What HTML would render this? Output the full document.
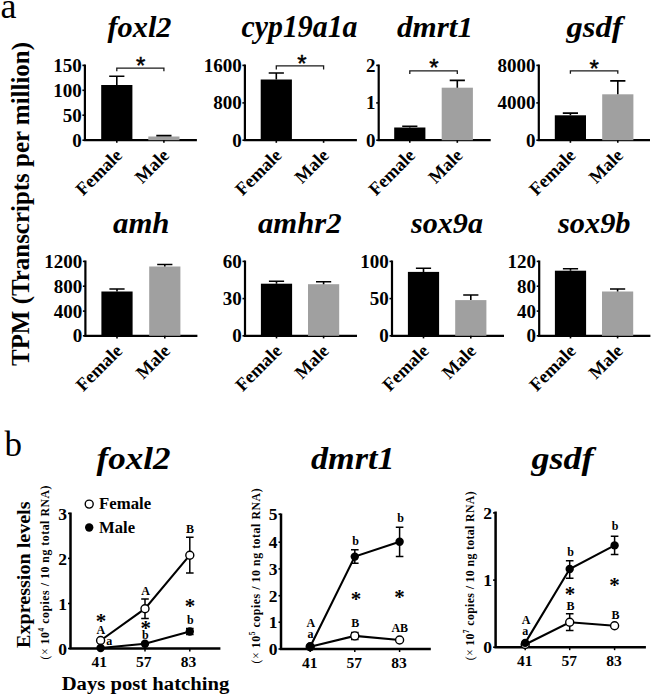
<!DOCTYPE html>
<html><head><meta charset="utf-8"><style>
*{margin:0;padding:0}
html,body{width:652px;height:697px;background:#fff;overflow:hidden}
svg{display:block}
text{font-family:"Liberation Serif",serif;font-weight:bold;fill:#000}
.tl{font-size:19px}
.xl{font-size:18.3px}
.tt{font-size:30px;font-style:italic}
.tt2{font-size:32px;font-style:italic}
.st{font-family:"Liberation Sans",sans-serif;font-weight:normal;font-size:24px;stroke:#000;stroke-width:0.45px}
.pl{font-weight:normal;font-size:36px}
.yl{font-size:25px}
.tlb{font-size:17.5px}
.xlb{font-size:15.5px}
.lab{font-size:12px}
.sb{font-size:21px}
.ul{font-size:11.8px}
.lg{font-size:16.6px}
.el{font-size:19.5px}
.dp{font-size:18px}
</style></head>
<body><svg width="652" height="697" viewBox="0 0 652 697">
<rect width="652" height="697" fill="#fff"/>
<path d="M84.9,64.60000000000001 V140.2 M83.7,140.2 H196.9" fill="none" stroke="#000" stroke-width="2.2"/>
<path d="M82.4,65.4 H84.9" stroke="#000" stroke-width="1.6"/>
<text x="81.7" y="71.80000000000001" text-anchor="end" class="tl">150</text>
<path d="M82.4,90.3 H84.9" stroke="#000" stroke-width="1.6"/>
<text x="81.7" y="96.7" text-anchor="end" class="tl">100</text>
<path d="M82.4,115.2 H84.9" stroke="#000" stroke-width="1.6"/>
<text x="81.7" y="121.60000000000001" text-anchor="end" class="tl">50</text>
<path d="M82.4,140.2 H84.9" stroke="#000" stroke-width="1.6"/>
<text x="81.7" y="146.6" text-anchor="end" class="tl">0</text>
<rect x="101.2" y="85" width="31.2" height="55.19999999999999" fill="#000"/>
<path d="M116.8,85 V76.3 M109.2,76.3 H124.39999999999999" stroke="#000" stroke-width="1.6" fill="none"/>
<path d="M116.8,140.2 V142.79999999999998" stroke="#000" stroke-width="1.6"/>
<rect x="148.3" y="136.5" width="31.2" height="3.6999999999999886" fill="#a0a0a0"/>
<path d="M163.9,136.5 V135.6 M156.3,135.6 H171.5" stroke="#000" stroke-width="1.6" fill="none"/>
<path d="M163.9,140.2 V142.79999999999998" stroke="#000" stroke-width="1.6"/>
<text transform="translate(123.2,156.39999999999998) rotate(-45)" text-anchor="end" class="xl">Female</text>
<text transform="translate(170.3,156.39999999999998) rotate(-45)" text-anchor="end" class="xl">Male</text>
<text x="107.5" y="36.6" class="tt" textLength="64" lengthAdjust="spacingAndGlyphs">foxl2</text>
<path d="M116.8,71.2 V68.1 H163.9 V71.2" stroke="#1a1a1a" stroke-width="1.3" fill="none"/>
<text x="140.6" y="74.1" text-anchor="middle" class="st">*</text>
<path d="M244.9,64.60000000000001 V140.2 M243.70000000000002,140.2 H356.9" fill="none" stroke="#000" stroke-width="2.2"/>
<path d="M242.4,65.4 H244.9" stroke="#000" stroke-width="1.6"/>
<text x="241.70000000000002" y="71.80000000000001" text-anchor="end" class="tl">1600</text>
<path d="M242.4,102.9 H244.9" stroke="#000" stroke-width="1.6"/>
<text x="241.70000000000002" y="109.30000000000001" text-anchor="end" class="tl">800</text>
<path d="M242.4,140.2 H244.9" stroke="#000" stroke-width="1.6"/>
<text x="241.70000000000002" y="146.6" text-anchor="end" class="tl">0</text>
<rect x="260.7" y="79.5" width="31.2" height="60.69999999999999" fill="#000"/>
<path d="M276.3,79.5 V73 M268.7,73 H283.90000000000003" stroke="#000" stroke-width="1.6" fill="none"/>
<path d="M276.3,140.2 V142.79999999999998" stroke="#000" stroke-width="1.6"/>
<path d="M323.6,140.2 V142.79999999999998" stroke="#000" stroke-width="1.6"/>
<text transform="translate(282.7,156.39999999999998) rotate(-45)" text-anchor="end" class="xl">Female</text>
<text transform="translate(330.0,156.39999999999998) rotate(-45)" text-anchor="end" class="xl">Male</text>
<text x="241.5" y="36.8" class="tt" style="font-size:32.5px" textLength="116" lengthAdjust="spacingAndGlyphs">cyp19a1a</text>
<path d="M276.3,69.5 V65.9 H323.6 V69.5" stroke="#1a1a1a" stroke-width="1.3" fill="none"/>
<text x="301.8" y="72.2" text-anchor="middle" class="st">*</text>
<path d="M378.7,64.60000000000001 V140.2 M377.5,140.2 H490.7" fill="none" stroke="#000" stroke-width="2.2"/>
<path d="M376.2,65.4 H378.7" stroke="#000" stroke-width="1.6"/>
<text x="375.5" y="71.80000000000001" text-anchor="end" class="tl">2</text>
<path d="M376.2,102.9 H378.7" stroke="#000" stroke-width="1.6"/>
<text x="375.5" y="109.30000000000001" text-anchor="end" class="tl">1</text>
<path d="M376.2,140.2 H378.7" stroke="#000" stroke-width="1.6"/>
<text x="375.5" y="146.6" text-anchor="end" class="tl">0</text>
<rect x="394.2" y="127.5" width="31.2" height="12.699999999999989" fill="#000"/>
<path d="M409.8,127.5 V126.2 M402.2,126.2 H417.40000000000003" stroke="#000" stroke-width="1.6" fill="none"/>
<path d="M409.8,140.2 V142.79999999999998" stroke="#000" stroke-width="1.6"/>
<rect x="441.7" y="87.7" width="31.2" height="52.499999999999986" fill="#a0a0a0"/>
<path d="M457.3,87.7 V80.4 M449.7,80.4 H464.90000000000003" stroke="#000" stroke-width="1.6" fill="none"/>
<path d="M457.3,140.2 V142.79999999999998" stroke="#000" stroke-width="1.6"/>
<text transform="translate(416.2,156.39999999999998) rotate(-45)" text-anchor="end" class="xl">Female</text>
<text transform="translate(463.7,156.39999999999998) rotate(-45)" text-anchor="end" class="xl">Male</text>
<text x="397" y="36.8" class="tt" textLength="76" lengthAdjust="spacingAndGlyphs">dmrt1</text>
<path d="M409.8,74 V70.9 H457.3 V74" stroke="#1a1a1a" stroke-width="1.3" fill="none"/>
<text x="433.8" y="76.4" text-anchor="middle" class="st">*</text>
<path d="M538.8,64.60000000000001 V140.2 M537.5999999999999,140.2 H650" fill="none" stroke="#000" stroke-width="2.2"/>
<path d="M536.3,65.4 H538.8" stroke="#000" stroke-width="1.6"/>
<text x="535.5999999999999" y="71.80000000000001" text-anchor="end" class="tl">8000</text>
<path d="M536.3,102.9 H538.8" stroke="#000" stroke-width="1.6"/>
<text x="535.5999999999999" y="109.30000000000001" text-anchor="end" class="tl">4000</text>
<path d="M536.3,140.2 H538.8" stroke="#000" stroke-width="1.6"/>
<text x="535.5999999999999" y="146.6" text-anchor="end" class="tl">0</text>
<rect x="554.8" y="115.3" width="31.2" height="24.89999999999999" fill="#000"/>
<path d="M570.4,115.3 V113.1 M562.8,113.1 H578.0" stroke="#000" stroke-width="1.6" fill="none"/>
<path d="M570.4,140.2 V142.79999999999998" stroke="#000" stroke-width="1.6"/>
<rect x="602.2" y="94.3" width="31.2" height="45.89999999999999" fill="#a0a0a0"/>
<path d="M617.8000000000001,94.3 V80.9 M610.2,80.9 H625.4000000000001" stroke="#000" stroke-width="1.6" fill="none"/>
<path d="M617.8000000000001,140.2 V142.79999999999998" stroke="#000" stroke-width="1.6"/>
<text transform="translate(576.8,156.39999999999998) rotate(-45)" text-anchor="end" class="xl">Female</text>
<text transform="translate(624.2,156.39999999999998) rotate(-45)" text-anchor="end" class="xl">Male</text>
<text x="566.5" y="36.8" class="tt" textLength="56" lengthAdjust="spacingAndGlyphs">gsdf</text>
<path d="M570.4,73.7 V70.8 H617.8000000000001 V73.7" stroke="#1a1a1a" stroke-width="1.3" fill="none"/>
<text x="594.1" y="76.7" text-anchor="middle" class="st">*</text>
<path d="M85.4,260.59999999999997 V335.8 M84.2,335.8 H197.4" fill="none" stroke="#000" stroke-width="2.2"/>
<path d="M82.9,261.4 H85.4" stroke="#000" stroke-width="1.6"/>
<text x="82.2" y="267.79999999999995" text-anchor="end" class="tl">1200</text>
<path d="M82.9,286.2 H85.4" stroke="#000" stroke-width="1.6"/>
<text x="82.2" y="292.59999999999997" text-anchor="end" class="tl">800</text>
<path d="M82.9,311.1 H85.4" stroke="#000" stroke-width="1.6"/>
<text x="82.2" y="317.5" text-anchor="end" class="tl">400</text>
<path d="M82.9,335.8 H85.4" stroke="#000" stroke-width="1.6"/>
<text x="82.2" y="342.2" text-anchor="end" class="tl">0</text>
<rect x="101.4" y="291.5" width="31.2" height="44.30000000000001" fill="#000"/>
<path d="M117.0,291.5 V289 M109.4,289 H124.6" stroke="#000" stroke-width="1.6" fill="none"/>
<path d="M117.0,335.8 V338.40000000000003" stroke="#000" stroke-width="1.6"/>
<rect x="149.2" y="266.5" width="31.2" height="69.30000000000001" fill="#a0a0a0"/>
<path d="M164.79999999999998,266.5 V264.5 M157.2,264.5 H172.39999999999998" stroke="#000" stroke-width="1.6" fill="none"/>
<path d="M164.79999999999998,335.8 V338.40000000000003" stroke="#000" stroke-width="1.6"/>
<text transform="translate(123.4,352.0) rotate(-45)" text-anchor="end" class="xl">Female</text>
<text transform="translate(171.2,352.0) rotate(-45)" text-anchor="end" class="xl">Male</text>
<text x="113" y="233" class="tt" textLength="56.5" lengthAdjust="spacingAndGlyphs">amh</text>
<path d="M245,260.59999999999997 V335.8 M243.8,335.8 H357" fill="none" stroke="#000" stroke-width="2.2"/>
<path d="M242.5,261.4 H245" stroke="#000" stroke-width="1.6"/>
<text x="241.8" y="267.79999999999995" text-anchor="end" class="tl">60</text>
<path d="M242.5,298.6 H245" stroke="#000" stroke-width="1.6"/>
<text x="241.8" y="305.0" text-anchor="end" class="tl">30</text>
<path d="M242.5,335.8 H245" stroke="#000" stroke-width="1.6"/>
<text x="241.8" y="342.2" text-anchor="end" class="tl">0</text>
<rect x="260.9" y="283.7" width="31.2" height="52.10000000000002" fill="#000"/>
<path d="M276.5,283.7 V281.2 M268.9,281.2 H284.1" stroke="#000" stroke-width="1.6" fill="none"/>
<path d="M276.5,335.8 V338.40000000000003" stroke="#000" stroke-width="1.6"/>
<rect x="308" y="284.2" width="31.2" height="51.60000000000002" fill="#a0a0a0"/>
<path d="M323.6,284.2 V281.7 M316.0,281.7 H331.20000000000005" stroke="#000" stroke-width="1.6" fill="none"/>
<path d="M323.6,335.8 V338.40000000000003" stroke="#000" stroke-width="1.6"/>
<text transform="translate(282.9,352.0) rotate(-45)" text-anchor="end" class="xl">Female</text>
<text transform="translate(330.0,352.0) rotate(-45)" text-anchor="end" class="xl">Male</text>
<text x="258" y="233" class="tt" textLength="83.5" lengthAdjust="spacingAndGlyphs">amhr2</text>
<path d="M392,260.59999999999997 V335.8 M390.8,335.8 H504" fill="none" stroke="#000" stroke-width="2.2"/>
<path d="M389.5,261.4 H392" stroke="#000" stroke-width="1.6"/>
<text x="388.8" y="267.79999999999995" text-anchor="end" class="tl">100</text>
<path d="M389.5,298.6 H392" stroke="#000" stroke-width="1.6"/>
<text x="388.8" y="305.0" text-anchor="end" class="tl">50</text>
<path d="M389.5,335.8 H392" stroke="#000" stroke-width="1.6"/>
<text x="388.8" y="342.2" text-anchor="end" class="tl">0</text>
<rect x="407.9" y="271.9" width="31.2" height="63.900000000000034" fill="#000"/>
<path d="M423.5,271.9 V268.2 M415.9,268.2 H431.1" stroke="#000" stroke-width="1.6" fill="none"/>
<path d="M423.5,335.8 V338.40000000000003" stroke="#000" stroke-width="1.6"/>
<rect x="455.2" y="300.1" width="31.2" height="35.69999999999999" fill="#a0a0a0"/>
<path d="M470.8,300.1 V295 M463.2,295 H478.40000000000003" stroke="#000" stroke-width="1.6" fill="none"/>
<path d="M470.8,335.8 V338.40000000000003" stroke="#000" stroke-width="1.6"/>
<text transform="translate(429.9,352.0) rotate(-45)" text-anchor="end" class="xl">Female</text>
<text transform="translate(477.2,352.0) rotate(-45)" text-anchor="end" class="xl">Male</text>
<text x="411" y="233" class="tt" textLength="72" lengthAdjust="spacingAndGlyphs">sox9a</text>
<path d="M539.2,260.59999999999997 V335.8 M538.0,335.8 H650.4" fill="none" stroke="#000" stroke-width="2.2"/>
<path d="M536.7,261.4 H539.2" stroke="#000" stroke-width="1.6"/>
<text x="536.0" y="267.79999999999995" text-anchor="end" class="tl">120</text>
<path d="M536.7,286.2 H539.2" stroke="#000" stroke-width="1.6"/>
<text x="536.0" y="292.59999999999997" text-anchor="end" class="tl">80</text>
<path d="M536.7,311.1 H539.2" stroke="#000" stroke-width="1.6"/>
<text x="536.0" y="317.5" text-anchor="end" class="tl">40</text>
<path d="M536.7,335.8 H539.2" stroke="#000" stroke-width="1.6"/>
<text x="536.0" y="342.2" text-anchor="end" class="tl">0</text>
<rect x="554.9" y="270.7" width="31.2" height="65.10000000000002" fill="#000"/>
<path d="M570.5,270.7 V268.7 M562.9,268.7 H578.1" stroke="#000" stroke-width="1.6" fill="none"/>
<path d="M570.5,335.8 V338.40000000000003" stroke="#000" stroke-width="1.6"/>
<rect x="602" y="291.5" width="31.2" height="44.30000000000001" fill="#a0a0a0"/>
<path d="M617.6,291.5 V289 M610.0,289 H625.2" stroke="#000" stroke-width="1.6" fill="none"/>
<path d="M617.6,335.8 V338.40000000000003" stroke="#000" stroke-width="1.6"/>
<text transform="translate(576.9,352.0) rotate(-45)" text-anchor="end" class="xl">Female</text>
<text transform="translate(624.0,352.0) rotate(-45)" text-anchor="end" class="xl">Male</text>
<text x="558" y="233" class="tt" textLength="72.5" lengthAdjust="spacingAndGlyphs">sox9b</text>
<text x="0.5" y="18.4" class="pl">a</text>
<text x="4.5" y="455.9" class="pl" style="font-size:35px">b</text>
<text transform="translate(28.7,366) rotate(-90)" class="yl" textLength="324" lengthAdjust="spacingAndGlyphs">TPM (Transcripts per million)</text>
<path d="M70.5,512.6 V648.5 M69.3,648.5 H220.4" fill="none" stroke="#000" stroke-width="2.5"/>
<path d="M68.0,513.4 H70.5" stroke="#000" stroke-width="1.6"/>
<text x="66.9" y="519.5" text-anchor="end" class="tlb">3</text>
<path d="M68.0,558.4 H70.5" stroke="#000" stroke-width="1.6"/>
<text x="66.9" y="564.5" text-anchor="end" class="tlb">2</text>
<path d="M68.0,603.5 H70.5" stroke="#000" stroke-width="1.6"/>
<text x="66.9" y="609.6" text-anchor="end" class="tlb">1</text>
<path d="M68.0,648.5 H70.5" stroke="#000" stroke-width="1.6"/>
<text x="66.9" y="654.6" text-anchor="end" class="tlb">0</text>
<path d="M100.6,648.5 V651.5" stroke="#000" stroke-width="1.5"/>
<text x="99.3" y="667" text-anchor="middle" class="xlb">41</text>
<path d="M145,648.5 V651.5" stroke="#000" stroke-width="1.5"/>
<text x="143.7" y="667" text-anchor="middle" class="xlb">57</text>
<path d="M189.8,648.5 V651.5" stroke="#000" stroke-width="1.5"/>
<text x="188.5" y="667" text-anchor="middle" class="xlb">83</text>
<path d="M145,599.1 V618.6 M141.2,599.1 H148.8 M141.2,618.6 H148.8" stroke="#000" stroke-width="1.5" fill="none"/>
<path d="M189.8,537.3 V572.9 M186.0,537.3 H193.60000000000002 M186.0,572.9 H193.60000000000002" stroke="#000" stroke-width="1.5" fill="none"/>
<path d="M189.8,628.5 V634.6 M186.0,628.5 H193.60000000000002 M186.0,634.6 H193.60000000000002" stroke="#000" stroke-width="1.5" fill="none"/>
<polyline points="100.6,640.5 145,608.7 189.8,555.2" fill="none" stroke="#000" stroke-width="2.1"/>
<polyline points="100.6,648 145,643.8 189.8,631.5" fill="none" stroke="#000" stroke-width="2.1"/>
<circle cx="100.6" cy="640.5" r="4" fill="#fff" stroke="#000" stroke-width="1.4"/>
<circle cx="145" cy="608.7" r="4" fill="#fff" stroke="#000" stroke-width="1.4"/>
<circle cx="189.8" cy="555.2" r="4" fill="#fff" stroke="#000" stroke-width="1.4"/>
<circle cx="100.6" cy="648" r="4.2" fill="#000"/>
<circle cx="145" cy="643.8" r="4.2" fill="#000"/>
<circle cx="189.8" cy="631.5" r="4.2" fill="#000"/>
<text x="100.9" y="627.6" text-anchor="middle" class="sb">*</text>
<text x="100.9" y="634.2" text-anchor="middle" class="lab">A</text>
<text x="109.2" y="645.1" text-anchor="middle" class="lab">a</text>
<text x="145.5" y="594.5" text-anchor="middle" class="lab">A</text>
<text x="145.7" y="635.1" text-anchor="middle" class="sb">*</text>
<text x="145.3" y="638.5" text-anchor="middle" class="lab">b</text>
<text x="190" y="533.1" text-anchor="middle" class="lab">B</text>
<text x="189.9" y="612.8" text-anchor="middle" class="sb">*</text>
<text x="190.4" y="623.5" text-anchor="middle" class="lab">b</text>
<text x="96.5" y="469.2" class="tt2" textLength="74" lengthAdjust="spacingAndGlyphs">foxl2</text>
<text transform="translate(48.6,659.5) rotate(-90)" class="ul" textLength="174" lengthAdjust="spacing"><tspan font-weight="normal">(×</tspan> 10<tspan dy="-4.5" font-size="7.5">4</tspan><tspan dy="4.5"> copies / 10 ng total RNA)</tspan></text>
<path d="M281,513.4000000000001 V649 M279.8,649 H430.8" fill="none" stroke="#000" stroke-width="2.5"/>
<path d="M278.5,514.2 H281" stroke="#000" stroke-width="1.6"/>
<text x="277.4" y="520.3000000000001" text-anchor="end" class="tlb">5</text>
<path d="M278.5,542.2 H281" stroke="#000" stroke-width="1.6"/>
<text x="277.4" y="548.3000000000001" text-anchor="end" class="tlb">4</text>
<path d="M278.5,568.9 H281" stroke="#000" stroke-width="1.6"/>
<text x="277.4" y="575.0" text-anchor="end" class="tlb">3</text>
<path d="M278.5,595.7 H281" stroke="#000" stroke-width="1.6"/>
<text x="277.4" y="601.8000000000001" text-anchor="end" class="tlb">2</text>
<path d="M278.5,622.2 H281" stroke="#000" stroke-width="1.6"/>
<text x="277.4" y="628.3000000000001" text-anchor="end" class="tlb">1</text>
<path d="M278.5,649 H281" stroke="#000" stroke-width="1.6"/>
<text x="277.4" y="655.1" text-anchor="end" class="tlb">0</text>
<path d="M310.2,649 V652" stroke="#000" stroke-width="1.5"/>
<text x="309.7" y="668.3" text-anchor="middle" class="xlb">41</text>
<path d="M354.8,649 V652" stroke="#000" stroke-width="1.5"/>
<text x="354.3" y="668.3" text-anchor="middle" class="xlb">57</text>
<path d="M399.6,649 V652" stroke="#000" stroke-width="1.5"/>
<text x="399.1" y="668.3" text-anchor="middle" class="xlb">83</text>
<path d="M354.8,632.5 V639.4 M351.0,632.5 H358.6 M351.0,639.4 H358.6" stroke="#000" stroke-width="1.5" fill="none"/>
<path d="M354.8,549.7 V563.2 M351.0,549.7 H358.6 M351.0,563.2 H358.6" stroke="#000" stroke-width="1.5" fill="none"/>
<path d="M399.6,527.2 V556.6 M395.8,527.2 H403.40000000000003 M395.8,556.6 H403.40000000000003" stroke="#000" stroke-width="1.5" fill="none"/>
<polyline points="310.2,646.8 354.8,635.9 399.6,640" fill="none" stroke="#000" stroke-width="2.1"/>
<polyline points="310.2,646.8 354.8,556.6 399.6,541.8" fill="none" stroke="#000" stroke-width="2.1"/>
<circle cx="310.2" cy="646.8" r="4" fill="#fff" stroke="#000" stroke-width="1.4"/>
<circle cx="354.8" cy="635.9" r="4" fill="#fff" stroke="#000" stroke-width="1.4"/>
<circle cx="399.6" cy="640" r="4" fill="#fff" stroke="#000" stroke-width="1.4"/>
<circle cx="310.2" cy="646.8" r="4.2" fill="#000"/>
<circle cx="354.8" cy="556.6" r="4.2" fill="#000"/>
<circle cx="399.6" cy="541.8" r="4.2" fill="#000"/>
<text x="310.9" y="626.6" text-anchor="middle" class="lab">A</text>
<text x="310.5" y="637.6" text-anchor="middle" class="lab">a</text>
<text x="355.5" y="544.6" text-anchor="middle" class="lab">b</text>
<text x="355.9" y="605.5" text-anchor="middle" class="sb">*</text>
<text x="355.3" y="626.9" text-anchor="middle" class="lab">B</text>
<text x="400.5" y="521.6" text-anchor="middle" class="lab">b</text>
<text x="399.6" y="604.3" text-anchor="middle" class="sb">*</text>
<text x="399.8" y="631.8" text-anchor="middle" class="lab">AB</text>
<text x="311" y="469.2" class="tt2" textLength="83.5" lengthAdjust="spacingAndGlyphs">dmrt1</text>
<text transform="translate(259.5,663.4) rotate(-90)" class="ul" textLength="175" lengthAdjust="spacing"><tspan font-weight="normal">(×</tspan> 10<tspan dy="-4.5" font-size="7.5">5</tspan><tspan dy="4.5"> copies / 10 ng total RNA)</tspan></text>
<path d="M495.6,511.40000000000003 V647.2 M494.40000000000003,647.2 H645.9" fill="none" stroke="#000" stroke-width="2.5"/>
<path d="M493.1,512.9 H495.6" stroke="#000" stroke-width="1.6"/>
<text x="492.0" y="519.0" text-anchor="end" class="tlb">2</text>
<path d="M493.1,580.1 H495.6" stroke="#000" stroke-width="1.6"/>
<text x="492.0" y="586.2" text-anchor="end" class="tlb">1</text>
<path d="M493.1,647.2 H495.6" stroke="#000" stroke-width="1.6"/>
<text x="492.0" y="653.3000000000001" text-anchor="end" class="tlb">0</text>
<path d="M525.2,647.2 V650.2" stroke="#000" stroke-width="1.5"/>
<text x="524.7" y="665.9" text-anchor="middle" class="xlb">41</text>
<path d="M569.7,647.2 V650.2" stroke="#000" stroke-width="1.5"/>
<text x="569.2" y="665.9" text-anchor="middle" class="xlb">57</text>
<path d="M614.6,647.2 V650.2" stroke="#000" stroke-width="1.5"/>
<text x="614.1" y="665.9" text-anchor="middle" class="xlb">83</text>
<path d="M569.7,613.8 V630.6 M565.9000000000001,613.8 H573.5 M565.9000000000001,630.6 H573.5" stroke="#000" stroke-width="1.5" fill="none"/>
<path d="M569.7,560.7 V578.2 M565.9000000000001,560.7 H573.5 M565.9000000000001,578.2 H573.5" stroke="#000" stroke-width="1.5" fill="none"/>
<path d="M614.6,536.2 V554.6 M610.8000000000001,536.2 H618.4 M610.8000000000001,554.6 H618.4" stroke="#000" stroke-width="1.5" fill="none"/>
<polyline points="525.2,644.5 569.7,622.2 614.6,625.8" fill="none" stroke="#000" stroke-width="2.1"/>
<polyline points="525.2,642.9 569.7,569 614.6,545.4" fill="none" stroke="#000" stroke-width="2.1"/>
<circle cx="525.2" cy="644.5" r="4" fill="#fff" stroke="#000" stroke-width="1.4"/>
<circle cx="569.7" cy="622.2" r="4" fill="#fff" stroke="#000" stroke-width="1.4"/>
<circle cx="614.6" cy="625.8" r="4" fill="#fff" stroke="#000" stroke-width="1.4"/>
<circle cx="525.2" cy="642.9" r="4.2" fill="#000"/>
<circle cx="569.7" cy="569" r="4.2" fill="#000"/>
<circle cx="614.6" cy="545.4" r="4.2" fill="#000"/>
<text x="526" y="624" text-anchor="middle" class="lab">A</text>
<text x="525.2" y="635.2" text-anchor="middle" class="lab">a</text>
<text x="570.6" y="555.9" text-anchor="middle" class="lab">b</text>
<text x="570.1" y="601" text-anchor="middle" class="sb">*</text>
<text x="570.5" y="609.7" text-anchor="middle" class="lab">B</text>
<text x="615" y="530.3" text-anchor="middle" class="lab">b</text>
<text x="614.4" y="592" text-anchor="middle" class="sb">*</text>
<text x="615.6" y="619" text-anchor="middle" class="lab">B</text>
<text x="531.5" y="469.2" class="tt2" textLength="62" lengthAdjust="spacingAndGlyphs">gsdf</text>
<text transform="translate(473.8,660.3) rotate(-90)" class="ul" textLength="169" lengthAdjust="spacing"><tspan font-weight="normal">(×</tspan> 10<tspan dy="-4.5" font-size="7.5">7</tspan><tspan dy="4.5"> copies / 10 ng total RNA)</tspan></text>
<circle cx="89.2" cy="504.1" r="4" fill="#fff" stroke="#000" stroke-width="1.4"/>
<circle cx="89.2" cy="527.5" r="4.2" fill="#000"/>
<text x="99.1" y="509.4" class="lg" textLength="52" lengthAdjust="spacingAndGlyphs">Female</text>
<text x="99.1" y="532.9" class="lg" textLength="36" lengthAdjust="spacingAndGlyphs">Male</text>
<text transform="translate(30.2,647.9) rotate(-90)" class="el" textLength="146.4" lengthAdjust="spacingAndGlyphs">Expression levels</text>
<text x="61.7" y="689.6" class="dp" textLength="167.6" lengthAdjust="spacingAndGlyphs">Days post hatching</text>
</svg></body></html>
